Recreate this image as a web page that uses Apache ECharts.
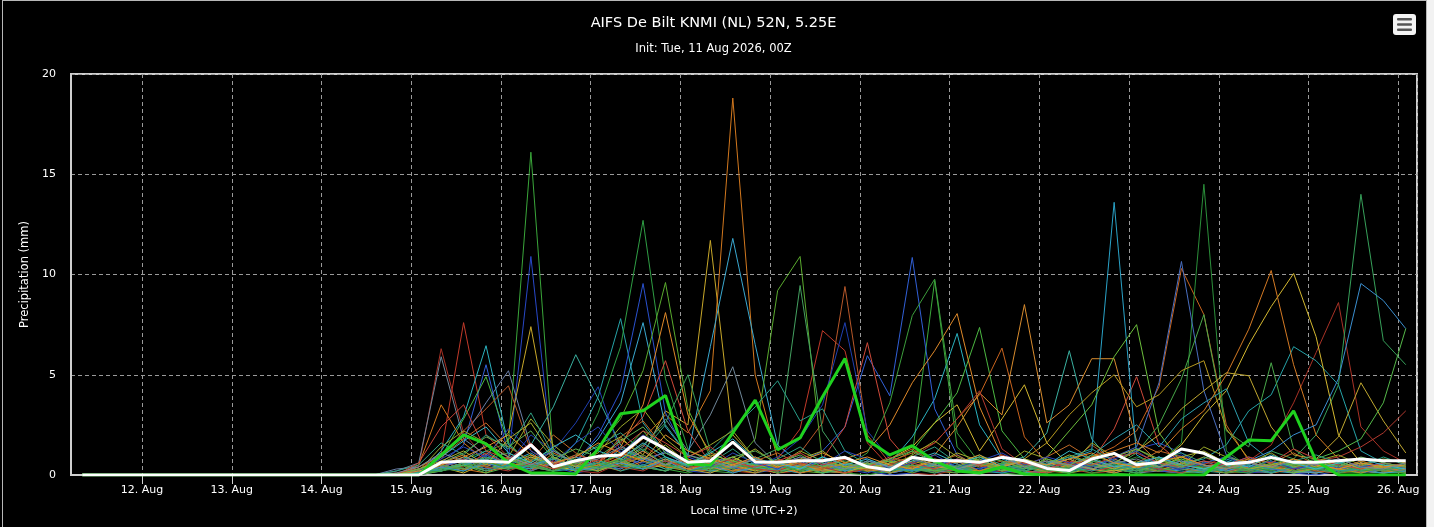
<!DOCTYPE html>
<html lang="en">
<head>
<meta charset="UTF-8">
<title>AIFS De Bilt KNMI - ensemble precipitation</title>
<style>
    html, body { margin:0; padding:0; background:#f2f2f2; }
    #main { position:absolute; left:0; top:0; width:1427px; height:527px; background:#000; }
    #frame { position:absolute; left:2px; top:0; width:1425px; height:527px; border:1px solid #b8b8b8; border-bottom:none; box-sizing:border-box; pointer-events:none; }
</style>
<script src="https://cdn.jsdelivr.net/npm/echarts@6.0.0/dist/echarts.min.js"></script>
</head>
<body>
<div id="main"></div>
<div id="frame"></div>
<script type="text/javascript">
// run: init 11 Aug 2026 00Z, 6-hourly steps, first step 11 Aug 08:00 local (UTC+2)
// times are kept as "local wall clock" and shown with useUTC
var HOUR = 3600 * 1000;
var runStart = Date.UTC(2026, 7, 11, 8);
var stepHours = 6;

// 11 Aug 08:00 .. 14 Aug 14:00 : every member dry
var dryZeros = [0,0,0,0,0,0,0,0,0,0,0,0,0,0];

// members from 14 Aug 20:00 to 26 Aug 02:00 (46 steps), grouped per day
var mem01 = [0, .1,.4,.8,1.2, 1.6,16.1,.9,.2, .5,1.1,.8,.3, .1,.4,.9,.3, .2,.6,.4,.1, 0,.2,1.0,9.7, 1.4,.3,.1,0, .2,.5,.3,.1, 0,.4,.8,.5, .2,.1,.3,.6, .2,.1,.4,.2, .1];
var mem02 = [0, 0,.3,.9,.6, .8,10.9,.4,.1, .3,.7,1.2,.5, .2,.1,.6,.4, .1,.3,.9,.5, .2,0,.1,.4, .8,.5,.2,.1, .3,.6,.2,.9, 1.3,1.6,1.1,.4, .2,.5,.3,.1, 0,.2,.6,.3, .2];
var mem03 = [0, .1,.5,.2,1.0, 2.1,7.4,1.3,.4, .6,1.8,1.0,3.2, 2.5,11.7,2.0,.8, .3,.5,.2,.1, .4,.8,.3,.2, .1,.5,.9,.4, .2,.1,.3,.6, .4,.2,.1,.3, .5,.8,.4,.2, .1,.3,.2,.6, .4];
var mem04 = [0, .2,1.1,7.6,2.0, .9,.3,.5,.2, .4,.9,1.5,.7, .3,.6,.2,.1, .8,2.3,7.2,6.2, 1.6,.4,.2,.5, .3,.1,.2,.4, .7,.3,.1,.2, .5,.9,.4,.2, .3,.1,.2,.5, .3,.6,.2,.1, .2];
var mem05 = [0, .4,6.3,2.1,.8, .3,1.0,.4,.2, .1,.6,.9,.5, .2,.3,.7,.4, .1,.2,.5,.3, .2,.4,.1,0, .3,.6,.2,.5, .4,.2,.8,.3, .1,.3,.5,.9, .4,.7,1.5,3.6, 6.1,8.6,2.4,1.2, .6];
var mem06 = [.2, .6,5.9,1.8,1.0, .5,.3,.8,.4, .2,.7,1.4,2.8, 1.2,3.0,5.4,1.6, .5,.3,.2,.6, .4,.1,.3,.2, .5,.8,.3,.1, .2,.4,.6,.3, .1,.2,.4,.7, .3,.2,.1,.4, .6,.3,.2,.1, .3];
var mem07 = [0, .1,1.2,2.9,6.45, 1.5,.6,.3,.9, .4,1.3,.8,.5, .3,.2,.6,.4, .1,.5,.9,.3, .2,.6,1.9,3.8, 7.06,2.5,.8,.4, .2,.5,.3,.1, .4,.2,.6,.3, .8,.4,.2,.1, .3,.5,.2,.4, .1];
var mem08 = [0, 0,.6,1.5,5.5, 1.0,.4,.2,.5, .3,.8,.6,1.2, .4,.2,.5,.9, .3,.6,1.2,2.4, 5.95,3.95,10.85,3.3, 1.0,.4,.2,.6, .3,.1,.5,.8, .4,.2,.3,.1, .5,.9,.3,.2, .1,.4,.6,.3, .2];
var mem09 = [0, .2,.9,2.8,4.9, 1.6,.5,.8,.3, .6,1.0,2.2,.9, .4,.3,.2,.5, .7,.4,.2,.1, .3,.6,1.2,2.6, 4.1,7.36,2.2,.8, .4,.2,.5,.3, .1,.6,.9,.4, .2,.3,.5,.1, .4,.2,.7,.3, .2];
var mem10 = [0, .5,3.5,1.6,.7, .4,.2,1.1,.6, .3,.9,1.8,3.0, 2.1,4.2,18.8,5.0, .8,.4,.2,.6, .3,.1,.5,.2, .4,.7,.3,.1, .2,.5,.4,.8, .3,.2,.1,.4, .6,.3,.5,.2, .1,.3,.2,.4, .2];
var mem11 = [.1, .3,.8,2.2,3.3, 4.45,1.2,.5,.3, .2,.6,1.0,.5, .8,.3,.4,.2, .5,1.1,2.6,9.4, 2.0,.6,.3,.2, .4,.5,.2,.1, .3,.6,1.5,.7, .4,.2,.5,.3, .1,.2,.6,.4, .3,.1,.2,.5, .3];
var mem12 = [.3, .4,1.0,1.9,3.6, 5.2,1.4,.5,.2, .6,.3,.8,1.1, .5,.9,.6,.3, .2,.4,.1,.3, .6,.2,.4,.1, .3,.2,.5,.7, .4,.8,.3,.2, .5,.3,.1,.2, .4,.6,.3,.1, .2,.5,.3,.2, .4];
var mem13 = [0, .1,.4,.9,.6, .4,1.5,3.4,6.0, 3.8,1.5,.7,.3, .5,.2,.4,.8, .3,.6,.2,.1, .4,.7,.3,.5, .2,.1,.6,.9, 2.1,6.2,1.8,.5, .3,.6,.4,.2, .1,.3,.5,.2, .4,.7,.3,.1, .2];
var mem14 = [0, 0,.2,.5,1.0, .6,2.0,1.2,2.6, 4.4,1.1,.5,.8, .3,.6,.2,.4, .9,1.8,3.5,7.6, 2.2,.8,.3,.2, .5,.3,.1,.4, .6,.2,.3,.5, .2,.7,1.0,.4, .3,.1,.2,.6, .4,.2,.5,.3, .1];
var mem15 = [0, .3,.2,.6,1.2, .5,.9,.4,1.6, 3.9,7.8,2.6,1.1, .6,.4,.2,.5, .3,.1,.4,.8, .5,.3,.2,.6, .4,.2,.1,.3, .5,.9,.6,.3, .2,.4,.6,.8, 1.5,3.2,4.0,6.4, 5.7,4.5,1.2,.6, .3];
var mem16 = [0, .1,.3,.6,.8, 1.1,.5,.2,.9, 3.1,6.4,12.7,4.8, 1.3,.6,.4,.2, .3,.5,.8,.4, .2,.1,.6,.3, .4,.7,.3,.2, .1,.5,.9,.4, .3,.2,.6,.5, .2,.1,.4,.3, .6,.2,.1,.3, .5];
var mem17 = [0, 0,.4,.8,.5, .3,.7,1.2,.6, 2.0,4.2,9.55,3.1, .9,.5,.3,.6, .2,.4,.7,.3, .1,.5,.2,.8, .4,.3,.6,.2, .1,.4,.3,.7, .5,.2,.1,.3, .6,.4,.2,.5, .3,.1,.4,.2, .1];
var mem18 = [0, .2,.5,.3,.9, .6,1.1,.4,.7, 1.8,3.6,7.6,2.4, 1.0,6.4,11.8,6.5, 1.5,.6,.3,.2, .4,.1,.3,.5, .2,.6,.4,.1, .3,.2,.5,.4, .6,.3,.2,.1, .4,.5,.3,.2, .1,.3,.6,.4, .2];
var mem19 = [0, .1,.3,.5,.2, .8,.4,.6,1.0, 1.4,2.8,5.2,9.6, 3.3,.9,.5,1.8, 9.2,10.9,.6,.3, .2,.4,.1,.5, .3,.2,.6,.4, .1,.3,.5,.2, .6,.4,.1,.2, .3,.5,.2,.6, .4,.1,.3,.2, .1];
var mem20 = [0, .2,.6,1.0,.4, .3,.8,.5,.2, .6,1.4,3.5,8.1, 3.0,1.1,.6,.3, .2,.5,.4,.8, 1.2,2.5,4.6,6.2, 8.05,3.4,.9,.4, .2,.5,.3,.1, .4,.2,.6,.3, .1,.4,.5,.2, .3,.6,.2,.1, .3];
var mem21 = [0, .3,.6,.4,1.1, .5,.2,.7,.3, .8,1.6,2.9,5.7, 2.2,.6,.4,.3, .1,.5,.8,2.4, 6.6,1.8,.5,.3, .2,.6,.4,.2, .1,.4,.7,2.3, 4.9,1.5,.6,.3, .2,.4,.1,.3, .5,.2,.4,.6, .3];
var mem22 = [0, .1,.2,.5,.9, .4,.7,1.3,.5, .2,.8,1.5,2.6, 5.0,1.2,.5,.3, .6,.2,.4,.1, .3,.5,.8,.4, .2,.1,.3,.6, .4,.2,.5,.3, .1,.4,.7,.2, .5,.3,1.2,.8, 2.0,4.5,14.0,6.7, 5.5];
var mem23 = [0, .2,.4,.1,.6, .3,.9,.5,.2, .4,.7,.3,.5, .2,.6,.9,.4, .1,.3,.5,.2, .4,.8,1.4,2.6, 3.5,1.2,2.8,4.5, 1.6,.5,.3,.2, .4,.6,1.5,3.0, 4.2,6.5,8.4,10.05, 6.9,2.0,.6,.3, .2];
var mem24 = [0, .1,.5,.3,.8, .4,.2,.6,.3, .5,1.0,.4,.7, .3,.2,.5,.8, .4,.6,.2,.1, .3,.7,1.1,1.6, 2.8,4.0,6.33,1.9, .6,.5,.9,1.4, 2.2,4.4,10.3,8.0, 2.5,.7,.3,.5, .2,.1,.4,.2, .3];
var mem25 = [0, .2,.3,.6,.4, .9,.5,.2,.7, .3,.6,1.2,.5, .8,.4,.2,.3, .6,.1,.4,.5, .2,.3,.6,1.0, 2.4,4.1,3.0,8.5, 2.6,3.5,5.8,5.8, 1.7,.6,.3,.2, .5,.4,.1,.3, .6,.2,.5,.3, .1];
var mem26 = [0, .1,.4,.2,.7, .5,.3,.9,.4, .2,.6,.3,.8, .5,.2,.4,.6, .3,.1,.5,.2, .7,.4,.2,.3, .6,.9,.4,.2, .5,.8,1.2,13.6, 1.0,.4,.7,.3, .2,.5,.1,.4, .3,.6,.2,.1, .2];
var mem27 = [0, 0,.2,.5,.3, .6,1.0,.4,.2, .5,.8,.3,.6, .2,.4,.7,.3, .5,.2,.1,.4, .6,.3,.5,.2, .4,.8,.3,.1, .9,2.2,3.5,5.9, 7.5,2.1,.6,.3, .5,.2,.4,.1, .3,.6,.2,.4, .3];
var mem28 = [0, .1,.3,.2,.6, .4,.8,.5,.3, .2,.7,1.0,.4, .6,.3,.2,.5, .1,.4,.6,.3, .2,.5,.8,.4, .3,.1,.6,.2, .4,.3,.7,.5, .9,.6,1.6,14.5, 1.2,.4,.2,.5, .3,.1,.4,.2, .6];
var mem29 = [0, .2,.4,.7,.3, .5,.2,.6,.9, .4,.3,.8,.5, .2,.6,.4,.1, .3,.7,.2,.5, .4,.1,.3,.6, .2,.5,.9,.4, .3,.6,.8,.9, 1.4,4.6,10.65,4.2, 1.0,.5,.3,.2, .6,.4,.1,.3, .2];
var mem30 = [0, .1,.2,.6,.4, .3,.5,.9,.2, .6,.4,.3,.7, .5,.2,.1,.4, .6,.3,.5,.2, .4,.7,.3,.1, .5,.2,.6,.4, .3,.1,.7,.4, 1.1,2.5,4.8,8.0, 2.2,1.4,5.6,1.3, .5,.2,.4,.6, .3];
var mem31 = [0, .2,.4,.3,.5, .8,.4,.2,.6, .3,.5,.9,.4, .2,.7,.3,.1, .4,.6,.2,.3, .5,.1,.4,.7, .3,.2,.5,.8, 1.6,3.0,4.1,5.0, 3.4,4.0,5.2,5.7, 2.3,.8,.4,.2, .5,.3,.1,.4, .2];
var mem32 = [0, .1,.3,.6,.2, .4,.7,.3,.5, .2,.6,.4,.8, .3,.1,.5,.2, .6,.4,.3,.1, .5,.2,.7,.4, .3,.6,.2,.5, .4,.8,.3,.6, 1.2,2.0,3.3,4.2, 5.1,4.95,2.4,1.0, .8,1.9,4.6,2.7, 1.1];
var mem33 = [0, .3,.2,.5,.8, .4,.6,.2,.3, .7,.4,.5,.2, .6,.3,.8,.4, .2,.5,.1,.3, .6,.4,.2,.5, .3,.7,.4,.2, .5,.3,1.0,1.8, 2.5,1.4,2.8,3.6, 4.3,1.6,.7,.4, .3,.5,.2,.6, .4];
var mem34 = [0, .2,.5,.3,.1, .6,.4,.8,.3, .5,.2,.7,.4, .3,.6,.2,.5, .4,.1,.3,.6, .2,.5,.4,.3, .7,.2,.5,.6, .3,.4,.9,1.2, 1.6,1.1,2.3,3.2, 5.0,7.27,10.2,5.5, 2.0,.8,.4,.2, .3];
var mem35 = [0, .1,.4,.2,.6, .3,.5,.8,.2, .4,.6,.3,.7, .2,.5,.1,.4, .6,.3,.7,.2, .5,.4,.2,.6, .3,.1,.5,.8, .4,.2,.6,.3, .5,.9,.4,.2, .3,.7,1.2,2.0, 2.5,4.8,9.55,8.7, 7.3];
var mem36 = [0, .2,.3,.5,.1, .4,.6,.2,.8, .3,.5,.4,.2, .6,.3,.7,.5, .2,.4,.1,.3, .5,.7,.3,.2, .4,.6,.2,.5, .3,.1,.4,.6, .2,.5,.8,.3, .4,.2,.6,.5, .8,1.2,1.8,3.6, 7.3];
var mem37 = [0, .3,.5,.8,.4, .2,.6,.3,.5, .9,.4,.2,.7, .4,.5,.8,.3, .2,.6,.4,.1, .3,.5,.9,1.6, 2.8,4.2,1.3,.5, .3,.6,.2,.4, .5,.3,.1,.6, .4,.2,.5,.3, .7,.9,1.4,2.1, 3.2];
var mem38 = [0, .1,.2,.4,.7, .3,.5,.2,.6, .4,.8,1.3,.5, .2,.4,.6,.3, .5,.2,.7,.4, 1.1,3.6,7.95,9.77, 2.1,.6,.3,.5, .2,.4,.1,.3, .6,.2,.5,.4, .1,.3,.7,.2, .4,.5,.2,.3, .1];
var mem39 = [0, .2,.5,.3,.6, .8,.4,.2,.5, .3,.7,.4,.2, .6,.5,.3,.8, 1.3,9.45,2.2,.6, .4,.2,.5,.3, .1,.6,.4,.2, .5,.3,.7,.4, .2,.6,.3,.1, .4,.2,.5,.6, .3,.1,.4,.2, .5];
var mem40 = [0, .1,.3,.6,.2, .5,.4,.8,.3, .6,.2,.5,.9, .4,1.2,2.3,3.4, 4.7,2.7,3.3,1.2, .5,.3,.2,.6, .4,.1,.5,.3, .7,.4,.2,.5, .3,.6,.4,.2, .5,.3,.1,.4, .6,.2,.3,.5, .2];
var mem41 = [0, .2,1.4,2.2,1.6, .9,2.8,1.5,.6, 1.1,2.4,3.3,1.8, .9,1.5,2.2,.8, .5,1.2,.7,.4, .6,.3,1.0,1.7, .9,.5,.4,1.2, .8,.4,1.6,.9, 1.3,.7,.5,1.4, .9,.6,1.1,.4, .7,1.0,.5,.8, .6];
var mem42 = [0, .4,.9,1.8,2.6, 1.4,.7,2.0,1.1, .6,1.9,2.7,1.3, .5,.9,1.6,.7, 1.1,.5,.3,.9, .4,.8,1.3,.6, 1.0,.4,.7,.5, .9,1.5,.8,.4, .6,1.2,.9,.5, .3,.8,.6,1.1, .5,.3,.7,.4, .6];
var mem43 = [.2, .5,1.6,1.0,2.0, 1.3,3.1,1.0,.7, 1.5,2.1,1.2,2.5, 1.0,.6,1.3,.5, .8,1.4,.6,.3, .7,.4,.9,1.4, .6,1.0,.5,.3, .6,.9,1.3,.7, .4,.8,1.1,.6, .9,.5,.3,.7, 1.0,.6,.4,.9, .5];
var mem44 = [0, .2,.8,1.4,.9, 2.3,1.2,.6,1.6, 2.4,1.1,2.0,1.3, .7,.4,1.1,.6, .3,.9,.5,1.2, .8,.3,.6,1.0, .4,.7,1.1,.5, .9,.6,.4,.8, 1.2,.5,.3,.6, .9,.4,.7,.3, .5,.8,.4,.6, .3];
var mem45 = [0, .3,.7,1.2,.5, 1.8,2.6,.9,.4, 1.3,1.9,.8,1.5, .6,1.0,.7,1.3, .5,.8,1.2,.4, .3,.6,.9,.5, 1.1,.7,.4,.8, .5,1.0,.6,.3, .7,.4,.9,1.2, .6,.3,.5,.8, .4,.7,.3,.5, .4];
var mem46 = [0, .6,2.4,3.5,1.2, .8,1.6,.5,1.0, .7,1.3,2.2,1.6, .9,1.4,.6,.4, .7,1.1,.5,.8, .4,.9,.6,.3, .8,.5,1.0,.6, .3,.7,.5,.9, 1.1,.6,.4,.7, .5,.9,.6,1.3, .8,.5,.3,.6, .4];
var mem47 = [0, .1,.9,1.7,2.4, 1.1,.6,1.4,2.0, 1.2,.8,1.6,.9, .5,1.1,1.8,.8, .6,.3,.9,.5, .8,.4,.7,1.1, .6,.9,.4,.7, .5,1.2,.8,.4, .6,.9,.5,.3, .7,.4,1.0,.6, .3,.6,.8,.5, .3];
var mem48 = [0, .3,.6,1.1,1.9, 1.4,2.2,.8,1.3, .9,1.7,2.4,1.1, .7,.5,.9,1.2, .6,1.0,.4,.7, .5,.8,1.2,.6, .4,.9,.7,.3, .8,.5,1.0,.6, 1.3,.8,.4,.9, .6,.3,.8,.5, .7,.4,.9,.6, .4];
var mem49 = [0, .2,.5,.9,1.4, 2.0,1.0,.6,.9, 1.6,1.1,.7,2.0, 1.2,.8,.5,.9, .4,.7,1.1,.6, .9,.5,.3,.8, .6,1.0,.4,.7, .5,.8,1.1,.6, .4,.7,.9,.5, .3,.6,.4,.8, .5,.3,.6,.4, .5];
var mem50 = [.1, .4,1.1,.7,1.5, .9,.5,1.2,.6, .8,1.4,.9,.5, 1.0,.7,.4,.8, .5,.9,.6,.3, .7,.4,.8,.5, .3,.6,.9,.4, .7,.5,.3,.6, .8,.4,.7,.5, .3,.6,.4,.7, .5,.8,.4,.3, .6];

// control run (thick green) and ensemble mean (thick white), same steps
var controlRun = [0, 0,1.0,2.0,1.55, .6,.1,.1,.05, 1.3,3.05,3.2,3.97, .56,.48,2.1,3.74, 1.26,1.85,3.9,5.81, 1.74,1.0,1.46,.7, .2,.1,.4,.05, 0,0,0,0, 0,0,0,0, .9,1.74,1.71,3.2, .71,0,0,0, 0];
var meanRun = [0, 0,.63,.68,.68, .63,1.51,.41,.71, .93,1.0,1.9,1.3, .64,.7,1.64,.65, .63,.71,.71,.88, .41,.25,.88,.71, .71,.63,.88,.71, .33,.22,.8,1.08, .51,.63,1.3,1.08, .55,.63,.88,.63, .63,.71,.8,.71, .71];

var memberRuns = [mem01,mem02,mem03,mem04,mem05,mem06,mem07,mem08,mem09,mem10,
                  mem11,mem12,mem13,mem14,mem15,mem16,mem17,mem18,mem19,mem20,
                  mem21,mem22,mem23,mem24,mem25,mem26,mem27,mem28,mem29,mem30,
                  mem31,mem32,mem33,mem34,mem35,mem36,mem37,mem38,mem39,mem40,
                  mem41,mem42,mem43,mem44,mem45,mem46,mem47,mem48,mem49,mem50];
var memberColors = ['#3aa63a','#2848c8','#c8a82a','#c23a2a','#a83226','#70889a','#2bb3c0','#3160d8','#4cb842','#d2781e',
                    '#b8582a','#6a7fa8','#3ab0a0','#1f3fb0','#26a3a8','#2f9e44','#2a52d0','#3aa8d0','#5aab2e','#e08a2a',
                    '#d04a3a','#37a05a','#d4b830','#c8641e','#d98c2e','#2aa3c8','#6cbf3c','#2b8f3a','#4a6fc0','#49a84a',
                    '#b89a20','#c0a830','#2fa0b0','#d47a24','#3b8fd0','#55b94a','#b33a30','#3c9d3c','#44a060','#2a9f8a',
                    '#9aa82a','#c06a28','#30a080','#2b45b8','#a8b030','#c8443a','#38b8c8','#60b050','#e0902a','#7a8898'];

var font = 'DejaVu Sans, Verdana, sans-serif';

function toPoints(vals) {
    return dryZeros.concat(vals).map(function (v, i) {
        return [runStart + i * stepHours * HOUR, v];
    });
}

var series = memberRuns.map(function (run, k) {
    return {
        name: 'member ' + (k + 1),
        type: 'line',
        data: toPoints(run),
        showSymbol: false,
        silent: true,
        lineStyle: { width: 1, color: memberColors[k] },
        z: 2
    };
});
series.push({
    name: 'control', type: 'line', data: toPoints(controlRun),
    showSymbol: false, silent: true,
    lineStyle: { width: 3, color: '#1fd21f' }, z: 3
});
series.push({
    name: 'mean', type: 'line', data: toPoints(meanRun),
    showSymbol: false, silent: true,
    lineStyle: { width: 3, color: '#ffffff' }, z: 4
});

var myChart = echarts.init(document.getElementById('main'));
var option = {
    backgroundColor: '#000',
    animation: false,
    useUTC: true,
    title: {
        text: 'AIFS De Bilt KNMI (NL) 52N, 5.25E',
        subtext: 'Init: Tue, 11 Aug 2026, 00Z',
        left: 'center',
        top: 11,
        itemGap: 12,
        textStyle: { color: '#fff', fontSize: 14.5, fontWeight: 'normal', fontFamily: font },
        subtextStyle: { color: '#fff', fontSize: 11.5, fontFamily: font }
    },
    graphic: [{
        type: 'group', left: 1393, top: 14,
        children: [
            { type: 'rect', shape: { x: 0, y: 0, width: 23, height: 21, r: 3 }, style: { fill: '#f4f4f4' } },
            { type: 'rect', shape: { x: 4, y: 4, width: 15, height: 2.5, r: 1 }, style: { fill: '#555' } },
            { type: 'rect', shape: { x: 4, y: 9.2, width: 15, height: 2.5, r: 1 }, style: { fill: '#555' } },
            { type: 'rect', shape: { x: 4, y: 14.4, width: 15, height: 2.5, r: 1 }, style: { fill: '#555' } }
        ]
    }],
    grid: {
        left: 71, right: 10, top: 74, bottom: 52,
        show: true, borderColor: '#cfcfcf', borderWidth: 2, backgroundColor: 'transparent'
    },
    xAxis: {
        type: 'time',
        min: Date.UTC(2026, 7, 11, 5),
        max: Date.UTC(2026, 7, 26, 5),
        minInterval: 24 * HOUR,
        maxInterval: 24 * HOUR,
        name: 'Local time (UTC+2)',
        nameLocation: 'middle',
        nameGap: 31,
        nameTextStyle: { color: '#fff', fontSize: 11, fontFamily: font },
        axisLine: { show: true, lineStyle: { color: '#cfcfcf', width: 2 } },
        axisTick: { show: true, length: 9, lineStyle: { color: '#cfcfcf', width: 1 } },
        axisLabel: {
            color: '#fff', fontSize: 11, fontFamily: font, margin: 10,
            showMinLabel: false, showMaxLabel: false,
            formatter: function (v) { return new Date(v).getUTCDate() + '. Aug'; }
        },
        splitLine: { show: true, lineStyle: { color: '#9a9a9a', width: 1, type: [4, 3] } }
    },
    yAxis: {
        type: 'value',
        min: 0, max: 20, interval: 5,
        name: 'Precipitation (mm)',
        nameLocation: 'middle',
        nameGap: 40,
        nameRotate: 90,
        nameTextStyle: { color: '#fff', fontSize: 11.5, fontFamily: font },
        axisLine: { show: true, lineStyle: { color: '#cfcfcf', width: 2 } },
        axisTick: { show: false },
        axisLabel: { color: '#fff', fontSize: 11, fontFamily: font, margin: 15 },
        splitLine: { show: true, lineStyle: { color: '#9a9a9a', width: 1, type: [4, 3] } }
    },
    series: series
};
myChart.setOption(option);
</script>
</body>
</html>
